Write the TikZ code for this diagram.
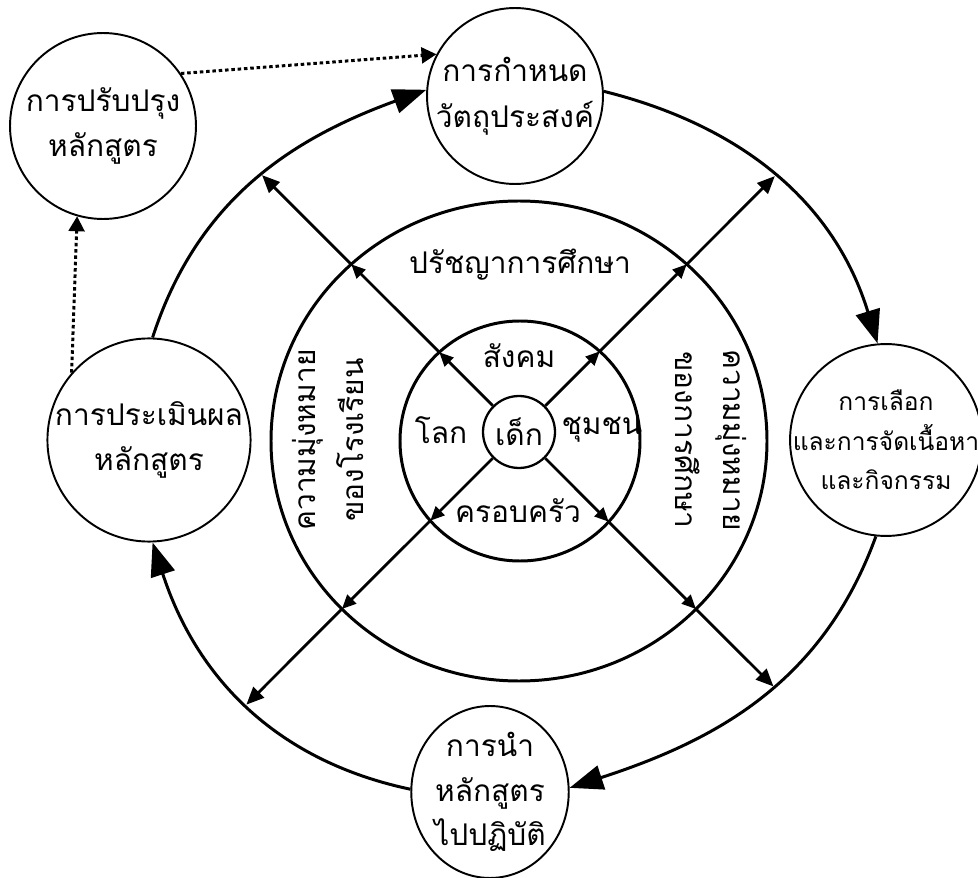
\documentclass[tikz,border=0pt]{standalone}
\usepackage{fontspec}
\newfontfamily\thai[Script=Thai]{Loma}
\usetikzlibrary{arrows.meta,shapes.geometric,intersections}

\begin{document}
\begin{tikzpicture}[x=0.02cm,y=0.02cm,
  stage/.style={circle,draw,line width=1.1pt,inner sep=0pt,align=center,
    font=\thai\fontsize{17}{26}\selectfont},
  ring/.style={draw,line width=1.7pt},
  cycle/.style={line width=1.7pt,-{Triangle[length=19pt,width=14pt]}},
  spoke/.style={line width=1.6pt,-{Triangle[length=8pt,width=7pt]}},
  spoketip/.style={line width=1.6pt,-{Triangle[length=10pt,width=8.5pt]}},
  feedback/.style={line width=1.7pt,dash pattern=on 2pt off 1.6pt,
    -{Triangle[length=8.5pt,width=9pt]}},
  lbl/.style={inner sep=0pt,align=center,font=\thai\fontsize{17}{27}\selectfont}
]
\useasboundingbox (0,0) rectangle (978,877);

% stages of the curriculum cycle
\node[stage,minimum size=3.48cm] (obj) at (515,781) {การกำหนด\\วัตถุประสงค์};
\node[stage,minimum size=3.72cm] (improve) at (103,751) {การปรับปรุง\\หลักสูตร};
\node[stage,minimum size=3.72cm] (eval) at (149,437) {การประเมินผล\\หลักสูตร};
\node[stage,minimum size=3.64cm,inner sep=-4pt,
  font=\thai\fontsize{14}{22.5}\selectfont] (select) at (886,437)
  {การเลือก\\และการจัดเนื้อหา\\และกิจกรรม};
\node[stage,ellipse,minimum width=3.0cm,minimum height=3.44cm,
  font=\thai\fontsize{17}{25.5}\selectfont] (impl) at (490,85)
  {การนำ\\หลักสูตร\\ไปปฏิบัติ};

% concentric rings around the child
\draw[ring,name path=bigring] (519,436) ellipse[x radius=248,y radius=240];
\draw[ring,name path=midring] (520,436) circle[radius=120];
\node[stage,minimum size=1.44cm,line width=1.3pt] (child) at (519,445) {เด็ก};

\node[lbl] (phil) at (520,612) {ปรัชญาการศึกษา};
\node[lbl] (society) at (519,521) {สังคม};
\node[lbl] (world) at (441,447) {โลก};
\node[lbl] (community) at (602,447) {ชุมชน};
\node[lbl] (family) at (518,366) {ครอบครัว};
\node[lbl,rotate=90] (aimSchool) at (328,437) {ความมุ่งหมาย\\ของโรงเรียน};
\node[lbl,rotate=-90] (aimEdu) at (711,437) {ความมุ่งหมาย\\ของการศึกษา};

% main cycle
\draw[cycle,name path=arcA] (obj.3) to[out=-14,in=107] (select.95);
\draw[cycle,name path=arcB] (select.264) to[out=-110,in=18] (impl.3);
\draw[cycle,name path=arcC] (impl.178) to[out=168,in=-72] (eval.272);
\draw[cycle,name path=arcD] (eval.88) to[out=72,in=200] (obj.176);

% feedback loop
\draw[feedback] (improve.34) -- (obj.152);
\draw[feedback] (eval.139) -- (improve.254);

% spokes from the child outwards
\path[name path=rayNE] (child.center) -- ++(45:450);
\path[name intersections={of=rayNE and midring,by=ne1}];
\path[name intersections={of=rayNE and bigring,by=ne2}];
\path[name intersections={of=rayNE and arcA,by=ne3}];
\draw[spoke] (child) -- (ne1);
\draw[spoke] (ne1) -- (ne2);
\draw[spoketip] (ne2) -- (ne3);

\path[name path=raySE] (child.center) -- ++(-45:450);
\path[name intersections={of=raySE and midring,by=se1}];
\path[name intersections={of=raySE and bigring,by=se2}];
\path[name intersections={of=raySE and arcB,by=se3}];
\draw[spoke] (child) -- (se1);
\draw[spoke] (se1) -- (se2);
\draw[spoketip] (se2) -- (se3);

\path[name path=raySW] (child.center) -- ++(-135:450);
\path[name intersections={of=raySW and midring,by=sw1}];
\path[name intersections={of=raySW and bigring,by=sw2}];
\path[name intersections={of=raySW and arcC,by=sw3}];
\draw[spoke] (child) -- (sw1);
\draw[spoke] (sw1) -- (sw2);
\draw[spoketip] (sw2) -- (sw3);

\path[name path=rayNW] (child.center) -- ++(135:450);
\path[name intersections={of=rayNW and midring,by=nw1}];
\path[name intersections={of=rayNW and bigring,by=nw2}];
\path[name intersections={of=rayNW and arcD,by=nw3}];
\draw[spoke] (child) -- (nw1);
\draw[spoke] (nw1) -- (nw2);
\draw[spoketip] (nw2) -- (nw3);
\end{tikzpicture}
\end{document}
